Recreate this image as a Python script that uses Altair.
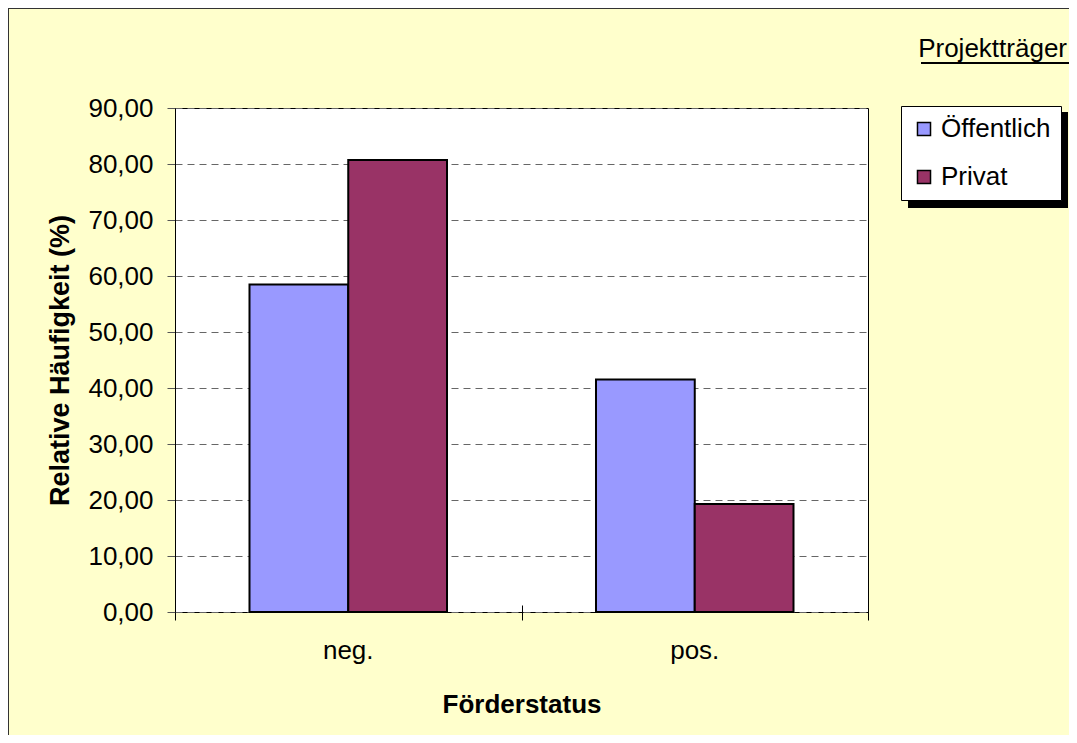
import altair as alt
import pandas as pd

# ---- data ----
status = ["neg.", "pos."]
traeger = ["Öffentlich", "Privat"]
oeffentlich = [58.5, 41.5]
privat = [80.7, 19.3]
y_ticks = [0, 10, 20, 30, 40, 50, 60, 70, 80, 90]
boundaries = [0, 1, 2]
legend_title = ["Projektträger"]
colors = ["#9999FF", "#993366"]

rows = []
for i, s in enumerate(status):
    rows.append({"status": s, "traeger": traeger[0], "wert": oeffentlich[i]})
    rows.append({"status": s, "traeger": traeger[1], "wert": privat[i]})
df = pd.DataFrame(rows)

FONT = "Liberation Sans"
W, H = 693, 504

bars = alt.Chart(df).mark_bar(stroke="black", strokeWidth=2).encode(
    x=alt.X(
        "status:N",
        sort=status,
        scale=alt.Scale(paddingInner=0.43, paddingOuter=0.215),
        axis=alt.Axis(
            title="Förderstatus",
            labelAngle=0,
            labelFont=FONT,
            labelFontSize=26,
            labelColor="black",
            labelPadding=25,
            ticks=False,
            domain=False,
            grid=False,
            titleFont=FONT,
            titleFontSize=26,
            titleFontWeight="bold",
            titleColor="black",
            titleBaseline="alphabetic",
            titleY=100,
        ),
    ),
    xOffset=alt.XOffset("traeger:N", sort=traeger, scale=alt.Scale(paddingInner=0, paddingOuter=0)),
    y=alt.Y(
        "wert:Q",
        scale=alt.Scale(domain=[0, 90], nice=False),
        axis=alt.Axis(
            title="Relative Häufigkeit (%)",
            values=y_ticks,
            labelExpr="replace(format(datum.value, '.2f'), '.', ',')",
            labelFont=FONT,
            labelFontSize=26,
            labelColor="black",
            labelPadding=14,
            tickSize=8,
            tickColor="#555555",
            domainColor="black",
            grid=True,
            gridColor="#666666",
            gridDash=[7, 5],
            gridWidth=1,
            titleFont=FONT,
            titleFontSize=27,
            titleFontWeight="bold",
            titleColor="black",
            titleAngle=270,
            titleBaseline="middle",
            titleAlign="center",
            titleX=-115,
            titleY=252,
        ),
    ),
    color=alt.Color(
        "traeger:N",
        sort=traeger,
        scale=alt.Scale(domain=traeger, range=colors),
        legend=alt.Legend(
            title=None,
            orient="none",
            legendX=726,
            legendY=-2,
            fillColor="white",
            strokeColor="black",
            padding=10,
            symbolType="square",
            symbolSize=170,
            symbolStrokeColor="black",
            symbolStrokeWidth=1.5,
            labelFont=FONT,
            labelFontSize=26,
            labelColor="black",
            labelOffset=4,
            rowPadding=22,
        ),
    ),
)

# legend shadow
shadow = alt.Chart(pd.DataFrame({"t": legend_title})).mark_rect(color="black").encode(
    x=alt.value(733), x2=alt.value(893), y=alt.value(4), y2=alt.value(100)
)

# legend title with underline
ltitle = alt.Chart(pd.DataFrame({"t": legend_title})).mark_text(
    font=FONT, fontSize=26, align="right", baseline="alphabetic", color="black"
).encode(text="t:N", x=alt.value(892), y=alt.value(-51))
underline = alt.Chart(pd.DataFrame({"t": legend_title})).mark_rule(color="black", strokeWidth=2).encode(
    x=alt.value(746), x2=alt.value(894), y=alt.value(-45)
)

# outer border (left and top)
border_left = alt.Chart(pd.DataFrame({"t": legend_title})).mark_rule(color="#333333", strokeWidth=2).encode(
    x=alt.value(-167), y=alt.value(-100), y2=alt.value(640)
)
border_top = alt.Chart(pd.DataFrame({"t": legend_title})).mark_rule(color="#333333", strokeWidth=2).encode(
    x=alt.value(-167), x2=alt.value(910), y=alt.value(-100)
)

# category boundary ticks on the x axis
ticks = alt.Chart(pd.DataFrame({"b": boundaries})).mark_point(opacity=0).encode(
    x=alt.X(
        "b:Q",
        scale=alt.Scale(domain=[0, 2], nice=False, zero=False),
        axis=alt.Axis(
            orient="top",
            offset=-(H + 8),
            values=boundaries,
            labels=False,
            grid=False,
            domain=False,
            ticks=True,
            tickSize=15,
            tickColor="black",
            tickWidth=1,
            title=None,
        ),
    )
)

chart = (
    alt.layer(shadow, bars, ltitle, underline, border_left, border_top, ticks)
    .resolve_scale(x="independent")
    .properties(
        width=W,
        height=H,
        autosize=alt.AutoSizeParams(type="none"),
        padding={"left": 167, "top": 100, "right": 201, "bottom": 123},
        background="#FFFFCC",
    )
    .configure_view(stroke="black", strokeWidth=1, fill="white")
)

chart.save("out.html", embed_options={"renderer": "svg", "actions": False})
